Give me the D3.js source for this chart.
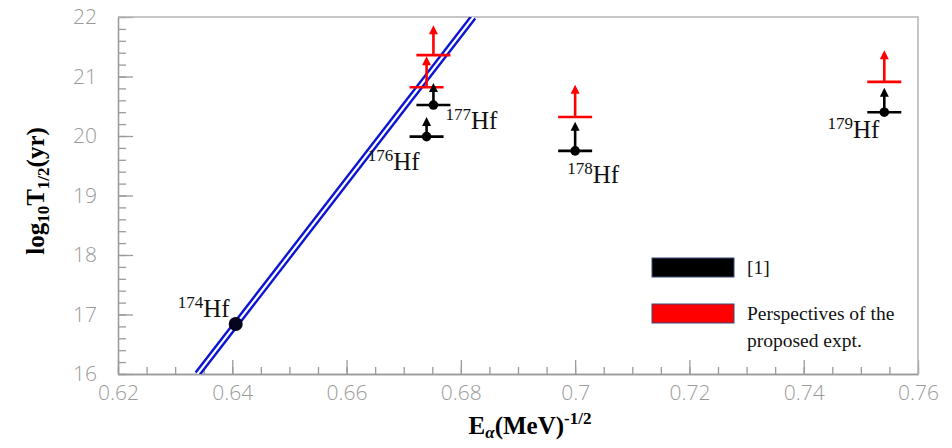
<!DOCTYPE html>
<html lang="en">
	<head>
		<meta charset="utf-8">
		<title>Hf alpha decay half-lives</title>
		<script type="text/javascript" src="https://cdn.jsdelivr.net/npm/d3@7"></script>
		<style>
			body { margin: 0; background: #fff; }
			.tick text { font-family: "Open Sans", "DejaVu Sans", sans-serif; font-weight: 300; }
		</style>
	</head>
	<body>
		<script type="text/javascript">

			//
			// Data
			//

			var isotopes   = ["174", "176", "177", "178", "179"];
			var energyX    = [0.6406, 0.6740, 0.6752, 0.7000, 0.7541];
			var measuredY  = [16.84, 19.99, 20.52, 19.75, 20.40];
			// top of the black arrows (null = no limit arrow)
			var measuredTop = [null, 20.32, 20.89, 20.24, 20.81];

			// red limits (proposed experiment), per isotope with a limit
			var proposedX   = [0.6740, 0.6752, 0.7000, 0.7541];
			var proposedY   = [20.82, 21.36, 20.32, 20.91];
			var proposedTop = [21.34, 21.86, 20.86, 21.44];

			// Geiger-Nuttall line, two end points
			var fitLineX = [0.6339, 0.6822];
			var fitLineY = [16, 22];

			var xMajorTicks = [0.62, 0.64, 0.66, 0.68, 0.70, 0.72, 0.74, 0.76];
			var yMajorTicks = [16, 17, 18, 19, 20, 21, 22];

			var legendLabels = [["[1]"], ["Perspectives of the", "proposed expt."]];
			var legendColors = ["#000000", "#ff0000"];

			// label offsets in pixels from each point [dx, dy, anchor]
			var labelOffsets = [[-6, -7, "end"], [-7, 33, "end"], [12, 24, "start"], [-8, 32, "start"], [-5, 26, "end"]];

			//
			// Setup
			//

			var width = 952, height = 448;
			var plotLeft = 118, plotRight = 918, plotTop = 17, plotBottom = 374;
			var gray = "#9a9a9a";
			var serif = "'Liberation Serif', 'DejaVu Serif', serif";
			var noLabel = function() { return ""; };

			var svg = d3.select("body")
				.append("svg")
				.attr("width", width)
				.attr("height", height);

			var x = d3.scaleLinear().domain([0.62, 0.76]).range([plotLeft, plotRight]);
			var y = d3.scaleLinear().domain([16, 22]).range([plotBottom, plotTop]);

			svg.append("defs").append("clipPath")
				.attr("id", "plotClip")
				.append("rect")
				.attr("x", plotLeft).attr("y", plotTop)
				.attr("width", plotRight - plotLeft).attr("height", plotBottom - plotTop);

			//
			// Axes
			//

			var xMinor = d3.axisBottom(x).tickValues(d3.range(0, 29).map(function(i) { return 0.62 + i * 0.005; }))
				.tickSize(-7).tickSizeOuter(0).tickFormat(noLabel);
			var xMajor = d3.axisBottom(x).tickValues(xMajorTicks)
				.tickSize(-14).tickSizeOuter(0).tickPadding(11)
				.tickFormat(function(d) { return String(+d.toFixed(2)); });

			var yMinor = d3.axisLeft(y).tickValues(d3.range(0, 31).map(function(i) { return 16 + i * 0.2; }))
				.tickSize(-8).tickSizeOuter(0).tickFormat(noLabel);
			var yMajor = d3.axisLeft(y).tickValues(yMajorTicks)
				.tickSize(-15).tickSizeOuter(0).tickPadding(21)
				.tickFormat(d3.format("d"));

			[xMinor, xMajor].forEach(function(ax) {
				svg.append("g").attr("transform", "translate(0," + plotBottom + ")").call(ax);
			});
			[yMinor, yMajor].forEach(function(ax) {
				svg.append("g").attr("transform", "translate(" + plotLeft + ",0)").call(ax);
			});

			svg.selectAll(".domain, .tick line").attr("stroke", gray).attr("stroke-width", 1.3);
			svg.selectAll(".tick text").attr("fill", gray).style("font-size", "21px");

			// top and right frame
			svg.append("path")
				.attr("d", "M" + plotLeft + "," + plotTop + "H" + plotRight + "V" + plotBottom)
				.attr("fill", "none").attr("stroke", "#b4b4b4").attr("stroke-width", 1.5);

			//
			// Fit line (double blue)
			//

			var fitData = fitLineX.map(function(v, i) { return [v, fitLineY[i]]; });
			var line = d3.line().x(function(d) { return x(d[0]); }).y(function(d) { return y(d[1]); });
			var fitG = svg.append("g").attr("clip-path", "url(#plotClip)");
			fitG.append("path").attr("d", line(fitData)).attr("stroke", "#0a14d2").attr("stroke-width", 7).attr("fill", "none");
			fitG.append("path").attr("d", line(fitData)).attr("stroke", "#ffffff").attr("stroke-width", 2.2).attr("fill", "none");

			//
			// Limits and points
			//

			var drawLimit = function(g, xv, yv, topv, color) {
				var cx = x(xv), cy = y(yv), ty = y(topv);
				g.append("line").attr("x1", cx - 17).attr("x2", cx + 17).attr("y1", cy).attr("y2", cy)
					.attr("stroke", color).attr("stroke-width", 2.6);
				g.append("line").attr("x1", cx).attr("x2", cx).attr("y1", cy).attr("y2", ty + 8)
					.attr("stroke", color).attr("stroke-width", 2.6);
				g.append("path")
					.attr("d", "M" + (cx - 4.5) + "," + (ty + 9) + "L" + cx + "," + ty + "L" + (cx + 4.5) + "," + (ty + 9) + "Z")
					.attr("fill", color);
			};

			var marks = svg.append("g");

			proposedX.forEach(function(xv, i) {
				drawLimit(marks, xv, proposedY[i], proposedTop[i], "#ff0000");
			});

			energyX.forEach(function(xv, i) {
				if (measuredTop[i] !== null) {
					drawLimit(marks, xv, measuredY[i], measuredTop[i], "#000000");
				}
				marks.append("circle")
					.attr("cx", x(xv)).attr("cy", y(measuredY[i]))
					.attr("r", i === 0 ? 7 : 4.8)
					.attr("fill", i === 0 ? "#05051e" : "#000");
			});

			//
			// Isotope labels
			//

			energyX.forEach(function(xv, i) {
				var off = labelOffsets[i];
				var t = svg.append("text")
					.attr("x", x(xv) + off[0])
					.attr("y", y(measuredY[i]) + off[1])
					.attr("text-anchor", off[2])
					.style("font-family", serif)
					.attr("fill", "#111");
				t.append("tspan").style("font-size", "17px").attr("dy", -9).text(isotopes[i]);
				t.append("tspan").style("font-size", "25px").attr("dy", 9).text("Hf");
			});

			//
			// Axis titles
			//

			var xt = svg.append("text")
				.attr("x", 530).attr("y", 434)
				.attr("text-anchor", "middle")
				.style("font-family", serif).style("font-weight", "bold").style("font-size", "25px");
			xt.append("tspan").text("E");
			xt.append("tspan").style("font-size", "17px").style("font-style", "italic").attr("dy", 4).text("α");
			xt.append("tspan").attr("dy", -4).text("(MeV)");
			xt.append("tspan").style("font-size", "17px").attr("dy", -10).text("-1/2");

			var yt = svg.append("text")
				.attr("transform", "translate(44,191) rotate(-90)")
				.attr("text-anchor", "middle")
				.style("font-family", serif).style("font-weight", "bold").style("font-size", "25px");
			yt.append("tspan").text("log");
			yt.append("tspan").style("font-size", "17px").attr("dy", 5).text("10");
			yt.append("tspan").attr("dy", -5).text("T");
			yt.append("tspan").style("font-size", "17px").attr("dy", 5).text("1/2");
			yt.append("tspan").attr("dy", -5).text("(yr)");

			//
			// Legend
			//

			var legend = svg.append("g");
			legendColors.forEach(function(c, i) {
				var ly = 258 + i * 46;
				legend.append("rect")
					.attr("x", 652).attr("y", ly).attr("width", 82).attr("height", 19)
					.attr("fill", c).attr("stroke", "#3a4a7a").attr("stroke-width", 1);
				legendLabels[i].forEach(function(s, j) {
					legend.append("text")
						.attr("x", 747).attr("y", ly + 16 + j * 27)
						.style("font-family", serif).style("font-size", "19.5px")
						.attr("fill", "#111")
						.text(s);
				});
			});

		</script>
	</body>
</html>
